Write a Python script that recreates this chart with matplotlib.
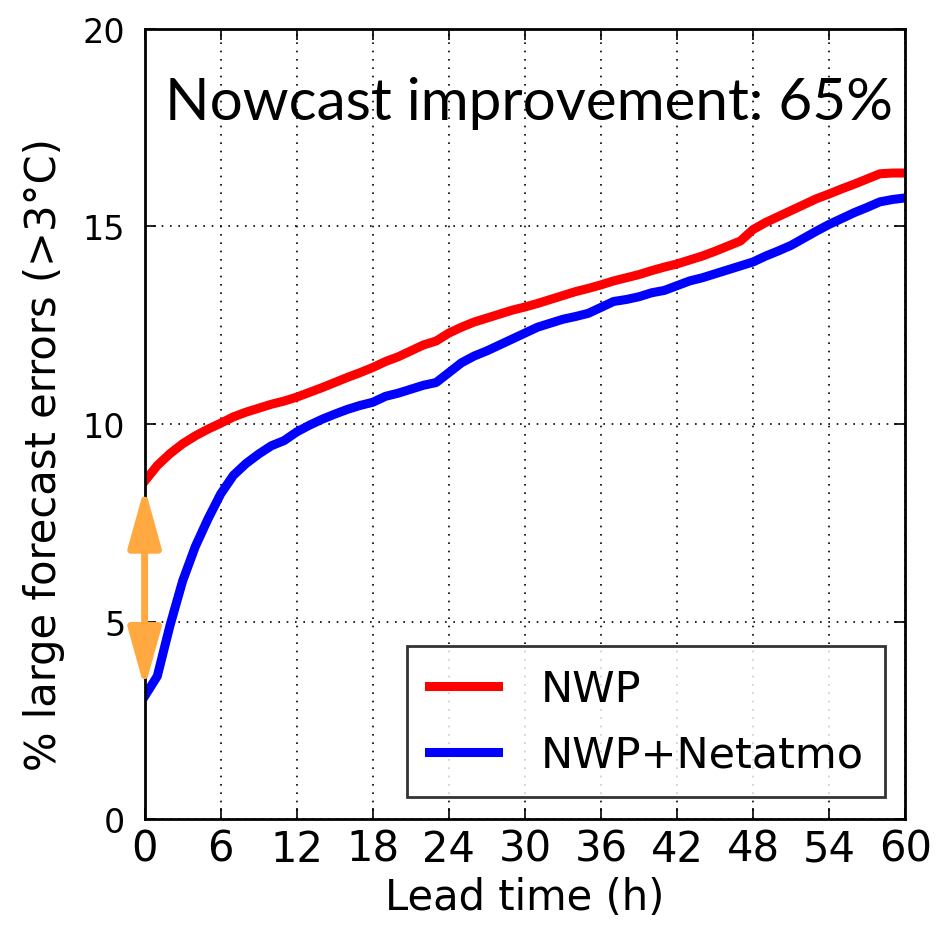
import numpy as np
import matplotlib
matplotlib.use("Agg")
import matplotlib.pyplot as plt

lead_time = list(range(0, 61))

nwp = [8.55, 8.95, 9.25, 9.5, 9.7, 9.87, 10.02, 10.18, 10.3, 10.4,
       10.5, 10.58, 10.68, 10.8, 10.92, 11.05, 11.18, 11.3, 11.43, 11.58,
       11.7, 11.85, 12.0, 12.1, 12.3, 12.45, 12.58, 12.68, 12.78, 12.88,
       12.96, 13.05, 13.15, 13.25, 13.35, 13.43, 13.52, 13.62, 13.7, 13.78,
       13.88, 13.97, 14.05, 14.15, 14.25, 14.37, 14.5, 14.63, 14.92, 15.1,
       15.25, 15.4, 15.55, 15.7, 15.82, 15.95, 16.07, 16.2, 16.33, 16.35,
       16.35]

nwp_netatmo = [3.11, 3.62, 4.9, 6.03, 6.9, 7.6, 8.23, 8.7, 9.0, 9.24,
               9.45, 9.58, 9.8, 9.97, 10.12, 10.25, 10.37, 10.47, 10.55, 10.7,
               10.78, 10.88, 10.98, 11.05, 11.3, 11.55, 11.72, 11.85, 12.0, 12.15,
               12.3, 12.45, 12.55, 12.65, 12.72, 12.8, 12.95, 13.1, 13.15, 13.22,
               13.32, 13.38, 13.5, 13.62, 13.7, 13.8, 13.9, 14.0, 14.1, 14.25,
               14.38, 14.52, 14.7, 14.88, 15.05, 15.2, 15.35, 15.48, 15.62, 15.68,
               15.72]

x_ticks = [0, 6, 12, 18, 24, 30, 36, 42, 48, 54, 60]
y_ticks = [0, 5, 10, 15, 20]


def main():
    fig = plt.figure(figsize=(9.39, 9.29), dpi=100)
    ax = fig.add_axes([0.154, 0.117, 0.81, 0.851])

    ax.plot(lead_time, nwp, color="red", lw=6.5, label="NWP")
    ax.plot(lead_time, nwp_netatmo, color="blue", lw=6.5, label="NWP+Netatmo")

    ax.set_xlim(0, 60)
    ax.set_ylim(0, 20)
    ax.set_xticks(x_ticks)
    ax.set_yticks(y_ticks)
    ax.grid(True, color="black", linestyle=(0, (1, 4)), linewidth=1.2)
    ax.tick_params(direction="in", length=8, width=1.2,
                   top=True, right=True)
    ax.tick_params(axis="x", labelsize=30, pad=6)
    ax.tick_params(axis="y", labelsize=24, pad=14)
    for s in ax.spines.values():
        s.set_linewidth(2)

    ax.set_xlabel("Lead time (h)", fontsize=30)
    ax.set_ylabel("% large forecast errors (>3°C)", fontsize=30)
    ax.xaxis.set_label_coords(0.5, -0.072)
    ax.yaxis.set_label_coords(-0.105, 0.463)

    leg = ax.legend(loc="lower right", fontsize=31, handlelength=1.6,
                    handletextpad=1.0, borderpad=0.5, labelspacing=0.55,
                    borderaxespad=0, fancybox=False, edgecolor="black",
                    bbox_to_anchor=(0.9737, 0.028))
    leg.get_frame().set_linewidth(2)

    ax.text(0.984, 0.886, "Nowcast improvement: 65%", transform=ax.transAxes,
            ha="right", va="baseline", fontsize=42, family="Lato")

    # orange double arrow showing the gap at lead time 0
    ax.annotate("", xy=(0, nwp[0] - 0.15), xytext=(0, nwp_netatmo[0] + 0.2),
                annotation_clip=False,
                arrowprops=dict(arrowstyle="<|-|>,head_length=1.8,head_width=0.5",
                                mutation_scale=20, color="#FFA940", lw=5,
                                shrinkA=0, shrinkB=0))

    fig.savefig("out.png", dpi=100)


if __name__ == '__main__':
    main()
